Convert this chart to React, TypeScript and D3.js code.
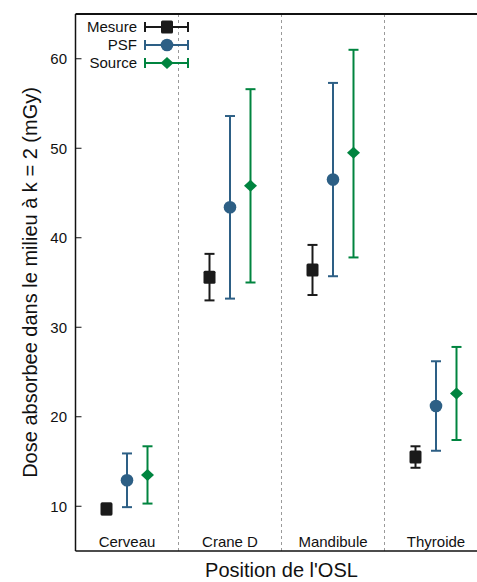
import React, { useEffect } from "react";
import * as d3 from "d3";

const categories = ["Cerveau", "Crane D", "Mandibule", "Thyroide"];
const seriesNames = ["Mesure", "PSF", "Source"];
const mesureVal = [9.7, 35.6, 36.4, 15.5];
const mesureLo = [9.1, 33.0, 33.6, 14.3];
const mesureHi = [10.3, 38.2, 39.2, 16.7];
const psfVal = [12.9, 43.4, 46.5, 21.2];
const psfLo = [9.9, 33.2, 35.7, 16.2];
const psfHi = [15.9, 53.6, 57.3, 26.2];
const sourceVal = [13.5, 45.8, 49.5, 22.6];
const sourceLo = [10.3, 35.0, 37.8, 17.4];
const sourceHi = [16.7, 56.6, 61.0, 27.8];
const yTicks = [10, 20, 30, 40, 50, 60];

const colors = ["#1a1a1a", "#2d5f85", "#00843f"];
const FONT = "'Liberation Sans', Arial, sans-serif";

const W = 477, H = 582;
const M = { left: 75.5, top: 14, right: 487.5, bottom: 551 };

export default function App() {
  useEffect(() => {
    document.body.style.margin = "0";
  }, []);

  const x = d3.scaleBand().domain(categories).range([M.left, M.right]);
  const y = d3.scaleLinear().domain([5, 65]).range([M.bottom, M.top]);
  const off = d3.scalePoint().domain(seriesNames).range([-20.5, 20.5]);

  const series = [
    { name: "Mesure", v: mesureVal, lo: mesureLo, hi: mesureHi },
    { name: "PSF", v: psfVal, lo: psfLo, hi: psfHi },
    { name: "Source", v: sourceVal, lo: sourceLo, hi: sourceHi },
  ];

  const marker = (si: number, cx: number, cy: number, key: string) => {
    const c = colors[si];
    if (si === 0) return <rect key={key} x={cx - 6} y={cy - 6.5} width={12} height={13} rx={1.5} fill={c} />;
    if (si === 1) return <circle key={key} cx={cx} cy={cy} r={6.3} fill={c} />;
    return <path key={key} d={`M${cx},${cy - 6} L${cx + 6.5},${cy} L${cx},${cy + 6} L${cx - 6.5},${cy} Z`} fill={c} />;
  };

  const cap = 5;

  return (
    <svg width={W} height={H} style={{ display: "block" }} fontFamily={FONT}>
      <rect x={0} y={0} width={W} height={H} fill="#fff" />
      {categories.slice(1).map((c) => (
        <line key={c} x1={x(c)!} x2={x(c)!} y1={M.top} y2={M.bottom} stroke="#9a9a9a" strokeWidth={1} strokeDasharray="3,3" />
      ))}
      <line x1={M.left} x2={M.right} y1={M.top} y2={M.top} stroke="#111" strokeWidth={2} />
      <line x1={M.left} x2={M.left} y1={M.top} y2={M.bottom} stroke="#111" strokeWidth={1.5} />
      <line x1={M.left} x2={M.right} y1={M.bottom} y2={M.bottom} stroke="#111" strokeWidth={1.5} />
      <line x1={M.right} x2={M.right} y1={M.top} y2={M.bottom} stroke="#111" strokeWidth={1.5} />
      {yTicks.map((t) => (
        <g key={t}>
          <line x1={M.left} x2={M.left + 6} y1={y(t)} y2={y(t)} stroke="#111" strokeWidth={1} />
          <text x={67} y={y(t)} dy="0.35em" textAnchor="end" fontSize={15} fill="#111">{t}</text>
        </g>
      ))}
      {categories.map((c) => (
        <text key={c} x={x(c)! + x.bandwidth() / 2} y={546.5} textAnchor="middle" fontSize={15} fill="#111">{c}</text>
      ))}
      {series.map((s, si) =>
        categories.map((c, i) => {
          const cx = x(c)! + x.bandwidth() / 2 + off(s.name)!;
          return (
            <g key={s.name + c}>
              <line x1={cx} x2={cx} y1={y(s.lo[i])} y2={y(s.hi[i])} stroke={colors[si]} strokeWidth={2} />
              <line x1={cx - cap} x2={cx + cap} y1={y(s.lo[i])} y2={y(s.lo[i])} stroke={colors[si]} strokeWidth={2} />
              <line x1={cx - cap} x2={cx + cap} y1={y(s.hi[i])} y2={y(s.hi[i])} stroke={colors[si]} strokeWidth={2} />
              {marker(si, cx, y(s.v[i]), "m")}
            </g>
          );
        })
      )}
      {seriesNames.map((n, si) => {
        const ly = 27 + si * 18;
        return (
          <g key={n}>
            <text x={137} y={ly} dy="0.35em" textAnchor="end" fontSize={15} fill="#111">{n}</text>
            <line x1={145} x2={188} y1={ly} y2={ly} stroke={colors[si]} strokeWidth={2} />
            <line x1={145} x2={145} y1={ly - 5} y2={ly + 5} stroke={colors[si]} strokeWidth={2} />
            <line x1={188} x2={188} y1={ly - 5} y2={ly + 5} stroke={colors[si]} strokeWidth={2} />
            {marker(si, 167, ly, "lm")}
          </g>
        );
      })}
      <text x={(M.left + M.right) / 2} y={576.5} textAnchor="middle" fontSize={20} fill="#111">Position de l'OSL</text>
      <text transform={`translate(30,${(M.top + M.bottom) / 2}) rotate(-90)`} textAnchor="middle" dy="0.35em" fontSize={20} fill="#111">
        Dose absorbee dans le milieu à k = 2 (mGy)
      </text>
    </svg>
  );
}
